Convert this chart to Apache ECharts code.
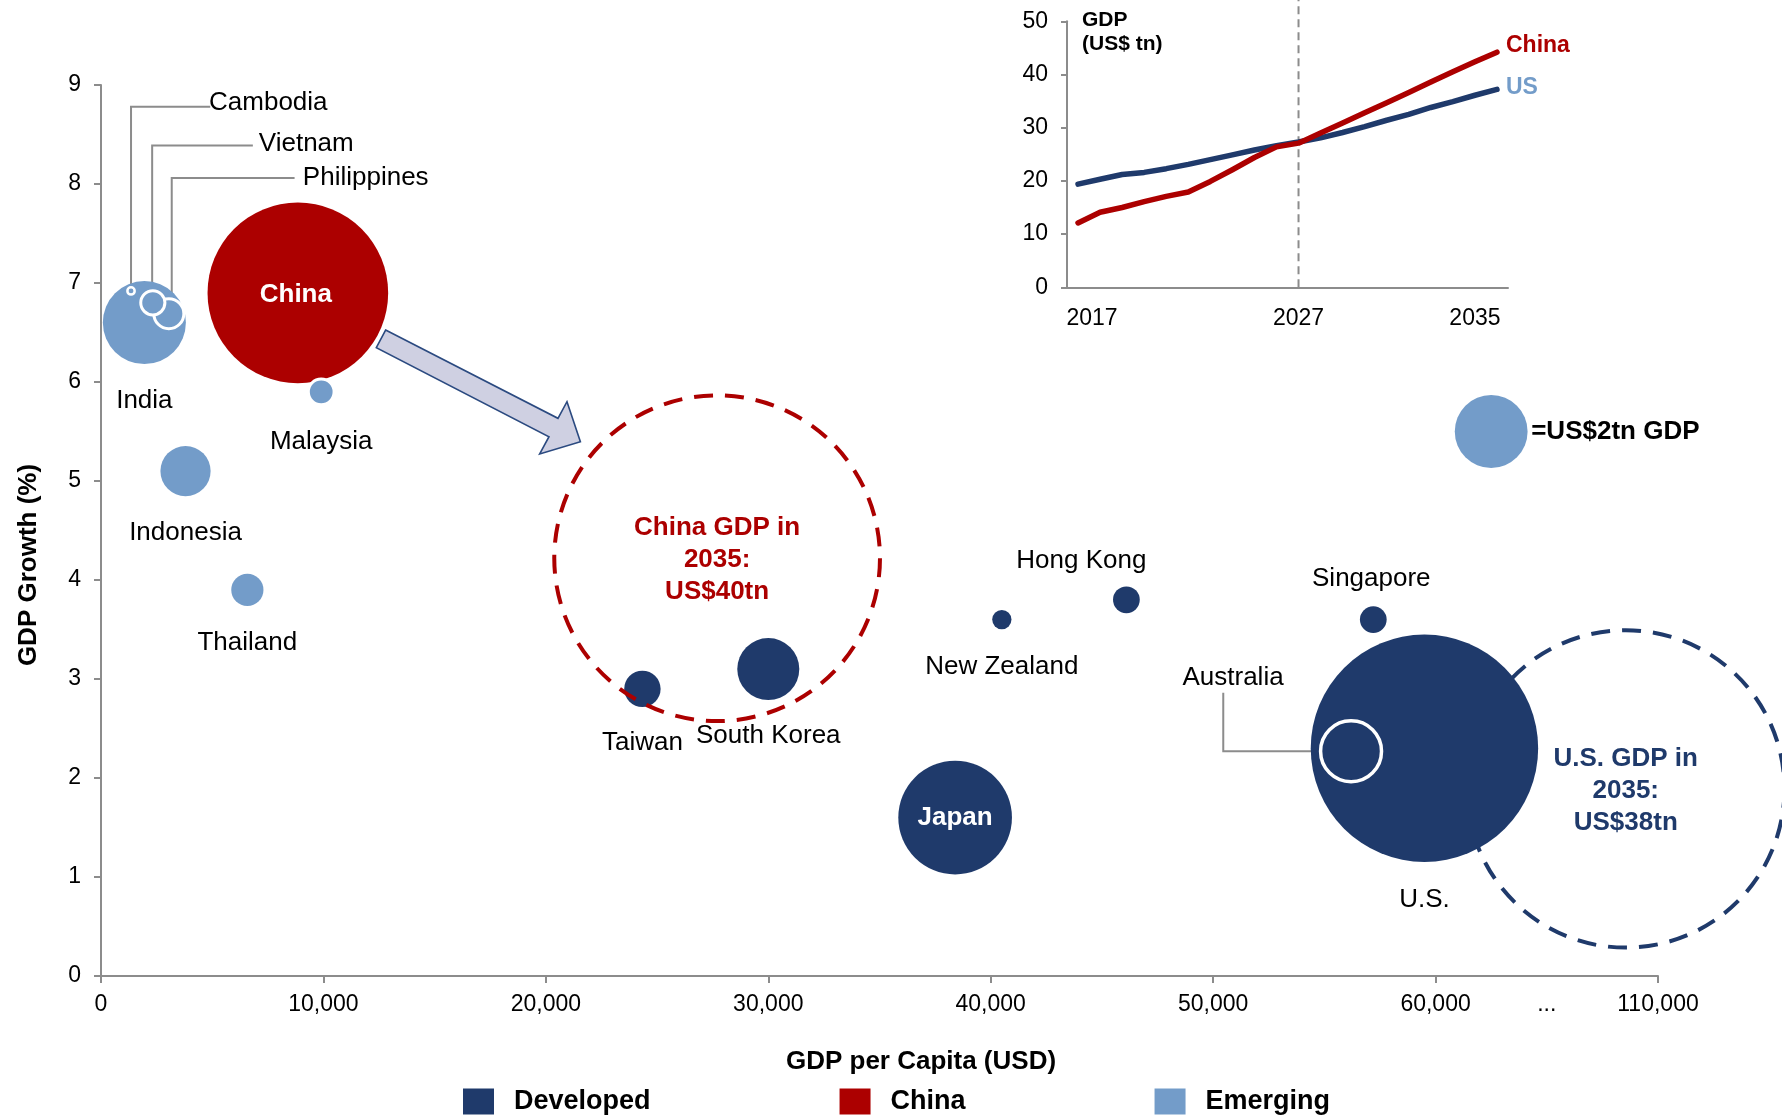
<!DOCTYPE html>
<html>
<head>
<meta charset="utf-8">
<title>GDP growth vs GDP per capita</title>
<script src="https://cdn.jsdelivr.net/npm/echarts@6/dist/echarts.min.js"></script>
<style>
  html, body { margin: 0; padding: 0; background: #fff; }
  #chart { width: 1782px; height: 1117px; }
</style>
</head>
<body>
<div id="chart"></div>
<script>
// ---- data ----------------------------------------------------------------
// Each economy: [name, GDP per capita (USD, axis scale), GDP growth (%), GDP (US$ tn)]
const emerging = [
  ['India',        1950, 6.60, 2.6],
  ['Philippines',  3050, 6.69, 0.34],
  ['Vietnam',      2330, 6.80, 0.22],
  ['Cambodia',     1350, 6.92, 0.02],
  ['Malaysia',     9900, 5.90, 0.25],
  ['Indonesia',    3800, 5.10, 0.95],
  ['Thailand',     6580, 3.90, 0.39]
];
const china = [
  ['China',        8850, 6.90, 12.3]
];
const developed = [
  ['Taiwan',      24340, 2.90, 0.5],
  ['South Korea', 30000, 3.10, 1.45],
  ['Japan',       38400, 1.60, 4.87],
  ['New Zealand', 40500, 3.60, 0.14],
  ['Hong Kong',   46100, 3.80, 0.27],
  ['Singapore',   57200, 3.60, 0.27],
  ['U.S.',        59500, 2.30, 19.5],
  ['Australia',   56200, 2.27, 1.4]
];
// 2035 projections drawn as dashed outlines
const china2035 = [['China GDP in\n2035:\nUS$40tn', 27700, 4.22, 40]];
const us2035    = [['U.S. GDP in\n2035:\nUS$38tn', 68550, 1.89, 38]];
// size key bubble
const sizeKey   = [['=US$2tn GDP', 62500, 5.50, 2]];

// x axis: linear up to 60,000, then a break to 110,000
const xTickValues  = [0, 10000, 20000, 30000, 40000, 50000, 60000, 70000];
const xLabelValues = [0, 10000, 20000, 30000, 40000, 50000, 60000, 65000, 70000];
const xLabelText   = { 65000: '...', 70000: '110,000' };

// leader lines linking small bubbles to their names
const leaders = [
  [[1350, 6.92], [1350, 8.78], [4911, 8.78]],
  [[2300, 6.80], [2300, 8.39], [6827, 8.39]],
  [[3180, 6.69], [3180, 8.06], [8703, 8.06]],
  [[56200, 2.27], [50455, 2.27], [50455, 2.86]]
];
// arrow from China today towards its 2035 outline
const arrowPath = [
  [12796, 6.525], [20545, 5.633], [20950, 5.801], [21553, 5.397],
  [19722, 5.273], [20140, 5.447], [12377, 6.346]
];

// inset: GDP (US$ tn)
const years = ['2017','2018','2019','2020','2021','2022','2023','2024','2025','2026',
               '2027','2028','2029','2030','2031','2032','2033','2034','2035','2036'];
const usGdp    = [19.4, 20.3, 21.2, 21.6, 22.3, 23.1, 24.0, 24.9, 25.8, 26.6,
                  27.3, 28.1, 29.1, 30.2, 31.4, 32.5, 33.8, 34.9, 36.1, 37.2];
const chinaGdp = [12.1, 14.1, 15.0, 16.1, 17.1, 17.9, 19.9, 22.1, 24.4, 26.4,
                  27.1, 29.0, 30.9, 32.8, 34.7, 36.6, 38.6, 40.5, 42.4, 44.2];
const insetYearLabels = ['2017', '2027', '2035'];
const crossoverYear = '2027';

// ---- styling -------------------------------------------------------------
const FONT = '"Liberation Sans", Arial, Helvetica, sans-serif';
const C_DEV = '#1f3a6b';
const C_CHN = '#ac0000';
const C_EMG = '#739cc9';
const AXIS_GREY = '#8c8c8c';
const K = 51.5;                           // bubble diameter per sqrt(US$ tn)
const bubbleSize = v => Math.sqrt(v[2]) * K;

// label placement around each bubble: [dx, dy, align]
const labelPos = {
  'India': [0, 78], 'Philippines': [134, -136, 'left'], 'Vietnam': [106, -159, 'left'],
  'Cambodia': [78, -188, 'left'], 'Malaysia': [0, 50], 'Indonesia': [0, 62],
  'Thailand': [0, 53], 'China': [-2, 2], 'Taiwan': [0, 54], 'South Korea': [0, 67],
  'Japan': [0, 0], 'New Zealand': [0, 47], 'Hong Kong': [-45, -39],
  'Singapore': [-2, -41], 'U.S.': [0, 152], 'Australia': [-118, -73]
};
const ringed = { 'Philippines': 3, 'Vietnam': 3, 'Cambodia': 2.5, 'Malaysia': 3, 'Australia': 3.5 };
const insideWhite = { 'China': true, 'Japan': true };

function bubbleItems(rows) {
  return rows.map(r => {
    const name = r[0];
    const p = labelPos[name] || [0, 0];
    const item = {
      name: name,
      value: [r[1], r[2], r[3]],
      label: {
        show: true,
        position: 'inside',
        offset: [p[0], p[1]],
        align: p[2] || 'center',
        verticalAlign: 'middle',
        formatter: name,
        fontFamily: FONT,
        fontSize: 26,
        color: insideWhite[name] ? '#fff' : '#000',
        fontWeight: insideWhite[name] ? 'bold' : 'normal'
      }
    };
    if (ringed[name]) item.itemStyle = { borderColor: '#fff', borderWidth: ringed[name] };
    return item;
  });
}

function bubbleSeries(name, rows, color) {
  return {
    name: name,
    type: 'scatter',
    xAxisIndex: 0, yAxisIndex: 0,
    data: bubbleItems(rows),
    symbol: 'circle',
    symbolSize: bubbleSize,
    itemStyle: { color: color, opacity: 1, borderWidth: 0 },
    emphasis: { disabled: true },
    z: 3
  };
}

function outlineSeries(name, rows, color, z) {
  return {
    name: name,
    type: 'scatter',
    xAxisIndex: 0, yAxisIndex: 0,
    data: rows.map(r => ({
      name: r[0], value: [r[1], r[2], r[3]],
      label: {
        show: true, position: 'inside', formatter: r[0],
        fontFamily: FONT, fontSize: 26, fontWeight: 'bold', lineHeight: 32,
        color: color, align: 'center', verticalAlign: 'middle', offset: [0, 2]
      }
    })),
    symbol: 'circle',
    symbolSize: bubbleSize,
    itemStyle: { color: 'rgba(0,0,0,0)', opacity: 1, borderColor: color, borderWidth: 4, borderType: [19, 12] },
    emphasis: { disabled: true },
    silent: true,
    z: z
  };
}

const chart = echarts.init(document.getElementById('chart'), null, { renderer: 'canvas' });

const option = {
  animation: false,
  backgroundColor: '#ffffff',
  textStyle: { fontFamily: FONT },
  legend: {
    data: ['Developed', 'China', 'Emerging'],
    left: 458,
    top: 1083,
    icon: 'rect',
    itemWidth: 31,
    itemHeight: 26,
    itemGap: 189,
    itemStyle: { borderWidth: 0, opacity: 1 },
    textStyle: { fontFamily: FONT, fontSize: 27, fontWeight: 'bold', color: '#000', padding: [0, 0, 0, 15] },
    selectedMode: false
  },
  grid: [
    { left: 101, right: 124, top: 85, bottom: 141 },
    { left: 1067, top: 21.3, width: 441, height: 266 }
  ],
  xAxis: [
    {
      type: 'value', gridIndex: 0, min: 0, max: 70000, interval: 10000,
      axisLine: { show: true, lineStyle: { color: AXIS_GREY, width: 2 } },
      axisTick: { show: true, length: 7, inside: false, customValues: xTickValues,
                  lineStyle: { color: AXIS_GREY, width: 2 } },
      axisLabel: {
        customValues: xLabelValues,
        fontFamily: FONT, fontSize: 23, color: '#000', margin: 17,
        formatter: v => xLabelText[v] || v.toLocaleString('en-US')
      },
      splitLine: { show: false }
    },
    {
      type: 'category', gridIndex: 1, data: years, boundaryGap: true,
      axisLine: { show: true, lineStyle: { color: AXIS_GREY, width: 2 } },
      axisTick: { show: false },
      axisLabel: {
        fontFamily: FONT, fontSize: 23, color: '#000', margin: 20,
        interval: (idx, val) => insetYearLabels.indexOf(val) >= 0,
        // the first year label sits a little right of its point
        formatter: (val, idx) => idx === 0 ? '{first|' + val + '}' : val,
        rich: { first: { fontFamily: FONT, fontSize: 23, color: '#000', padding: [0, 0, 0, 28] } }
      },
      splitLine: { show: false }
    }
  ],
  yAxis: [
    {
      type: 'value', gridIndex: 0, min: 0, max: 9, interval: 1,
      axisLine: { show: true, lineStyle: { color: AXIS_GREY, width: 2 } },
      axisTick: { show: true, length: 7, lineStyle: { color: AXIS_GREY, width: 2 } },
      axisLabel: { fontFamily: FONT, fontSize: 23, color: '#000', margin: 20 },
      splitLine: { show: false }
    },
    {
      type: 'value', gridIndex: 1, min: 0, max: 50, interval: 10,
      axisLine: { show: true, lineStyle: { color: AXIS_GREY, width: 2 } },
      axisTick: { show: true, length: 6, lineStyle: { color: AXIS_GREY, width: 2 } },
      axisLabel: { fontFamily: FONT, fontSize: 23, color: '#000', margin: 19 },
      splitLine: { show: false }
    }
  ],
  graphic: [
    {
      type: 'text', x: 921, y: 1062, silent: true,
      style: { text: 'GDP per Capita (USD)', font: 'bold 26px ' + FONT, fill: '#000',
               textAlign: 'center', textVerticalAlign: 'middle' }
    },
    {
      type: 'text', x: 29, y: 565, rotation: Math.PI / 2, silent: true,
      style: { text: 'GDP Growth (%)', font: 'bold 26px ' + FONT, fill: '#000',
               textAlign: 'center', textVerticalAlign: 'middle' }
    },
    {
      type: 'text', x: 1082, y: 8, silent: true,
      style: { text: 'GDP\n(US$ tn)', font: 'bold 21px ' + FONT, fill: '#000',
               lineHeight: 24, textAlign: 'left', textVerticalAlign: 'top' }
    }
  ],
  series: [
    {
      name: 'leaders',
      type: 'lines',
      coordinateSystem: 'cartesian2d',
      xAxisIndex: 0, yAxisIndex: 0,
      polyline: true,
      silent: true,
      data: leaders.map(c => ({ coords: c })),
      lineStyle: { color: AXIS_GREY, width: 2, opacity: 1 },
      z: 1
    },
    outlineSeries('U.S. 2035', us2035, C_DEV, 2),
    bubbleSeries('China', china, C_CHN),
    bubbleSeries('Emerging', emerging, C_EMG),
    bubbleSeries('Developed', developed, C_DEV),
    outlineSeries('China 2035', china2035, C_CHN, 4),
    {
      name: 'size key',
      type: 'scatter',
      xAxisIndex: 0, yAxisIndex: 0,
      data: sizeKey.map(r => ({
        name: r[0], value: [r[1], r[2], r[3]],
        label: { show: true, position: 'inside', align: 'left', verticalAlign: 'middle',
                 offset: [40, 0], formatter: r[0], fontFamily: FONT, fontSize: 26,
                 fontWeight: 'bold', color: '#000' }
      })),
      symbolSize: bubbleSize,
      itemStyle: { color: C_EMG, opacity: 1, borderWidth: 0 },
      emphasis: { disabled: true },
      z: 3
    },
    {
      name: 'arrow',
      type: 'custom',
      coordinateSystem: 'cartesian2d',
      xAxisIndex: 0, yAxisIndex: 0,
      data: [arrowPath[0]],
      silent: true,
      renderItem: (params, api) => ({
        type: 'polygon',
        shape: { points: arrowPath.map(p => api.coord(p)) },
        style: { fill: '#cfd0e2', stroke: '#2b4a80', lineWidth: 1.6 }
      }),
      z: 5
    },
    {
      // dashed marker at the crossover year, running to the top edge
      name: 'crossover',
      type: 'custom',
      coordinateSystem: 'cartesian2d',
      xAxisIndex: 1, yAxisIndex: 1,
      data: [[crossoverYear, 0]],
      silent: true,
      clip: false,
      renderItem: (params, api) => {
        const p = api.coord([api.value(0), 0]);
        return {
          type: 'line',
          shape: { x1: p[0], y1: p[1], x2: p[0], y2: 0 },
          style: { stroke: '#8c8c8c', lineWidth: 2, lineDash: [8, 5] }
        };
      },
      z: 1
    },
    {
      name: 'US GDP',
      type: 'line',
      xAxisIndex: 1, yAxisIndex: 1,
      data: usGdp,
      showSymbol: false,
      lineStyle: { color: C_DEV, width: 5.5, cap: 'round', join: 'round' },
      itemStyle: { color: C_DEV },
      endLabel: { show: true, formatter: 'US', distance: 9, offset: [0, -2],
                  fontFamily: FONT, fontSize: 23, fontWeight: 'bold', color: C_EMG },
      emphasis: { disabled: true },
      z: 2
    },
    {
      name: 'China GDP',
      type: 'line',
      xAxisIndex: 1, yAxisIndex: 1,
      data: chinaGdp,
      showSymbol: false,
      lineStyle: { color: C_CHN, width: 5.5, cap: 'round', join: 'round' },
      itemStyle: { color: C_CHN },
      endLabel: { show: true, formatter: 'China', distance: 9, offset: [0, -6],
                  fontFamily: FONT, fontSize: 23, fontWeight: 'bold', color: C_CHN },
      emphasis: { disabled: true },
      z: 3
    }
  ]
};

chart.setOption(option);
</script>
</body>
</html>
